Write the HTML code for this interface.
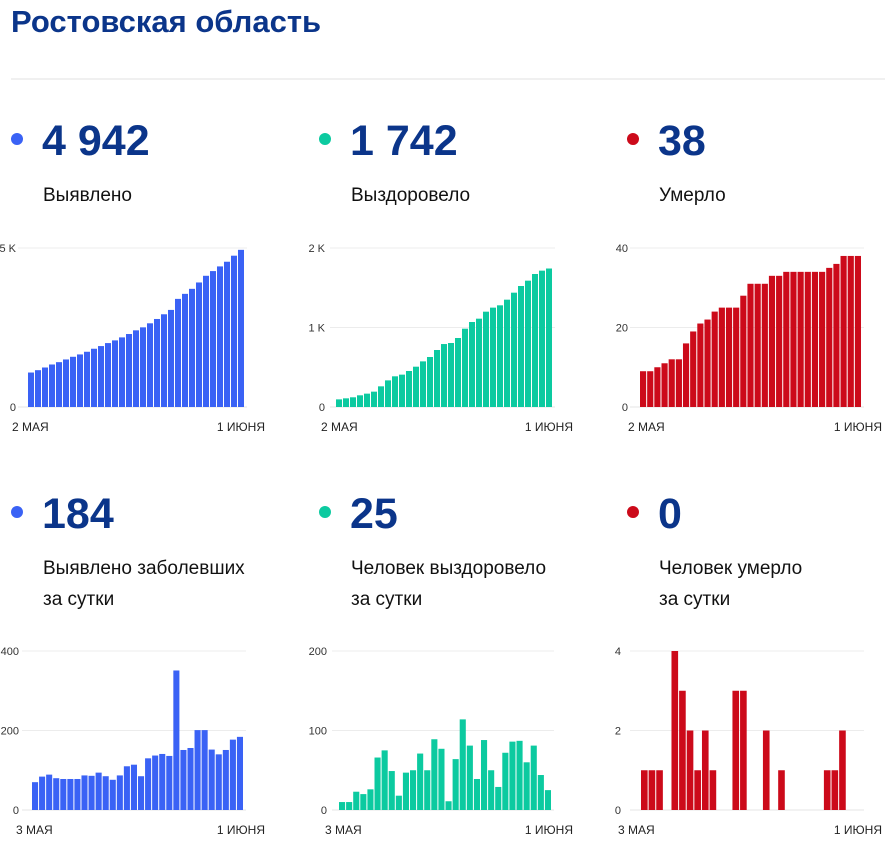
<!DOCTYPE html>
<html><head><meta charset="utf-8">
<style>
html,body{margin:0;padding:0;background:#fff;}
body{width:892px;height:846px;overflow:hidden;font-family:"Liberation Sans",sans-serif;}
svg{display:block;}
</style></head>
<body>
<svg id="page" width="892" height="846" viewBox="0 0 892 846" xmlns="http://www.w3.org/2000/svg" font-family="Liberation Sans, sans-serif">
<text x="11" y="32" font-size="31" font-weight="bold" fill="#0b358a">Ростовская область</text>
<line x1="11" y1="79" x2="885" y2="79" stroke="#e2e2e2" stroke-width="1"/>

<circle cx="17" cy="139" r="6" fill="#3a62f5"/>
<text x="42" y="155" font-size="43" font-weight="bold" fill="#0b358a">4 942</text>
<text x="43" y="201" font-size="19" fill="#111">Выявлено</text>

<circle cx="325" cy="139" r="6" fill="#0ccaa0"/>
<text x="350" y="155" font-size="43" font-weight="bold" fill="#0b358a">1 742</text>
<text x="351" y="201" font-size="19" fill="#111">Выздоровело</text>

<circle cx="633" cy="139" r="6" fill="#cc0a1a"/>
<text x="658" y="155" font-size="43" font-weight="bold" fill="#0b358a">38</text>
<text x="659" y="201" font-size="19" fill="#111">Умерло</text>

<circle cx="17" cy="512" r="6" fill="#3a62f5"/>
<text x="42" y="528" font-size="43" font-weight="bold" fill="#0b358a">184</text>
<text x="43" y="574" font-size="19" fill="#111">Выявлено заболевших</text>
<text x="43" y="605" font-size="19" fill="#111">за сутки</text>

<circle cx="325" cy="512" r="6" fill="#0ccaa0"/>
<text x="350" y="528" font-size="43" font-weight="bold" fill="#0b358a">25</text>
<text x="351" y="574" font-size="19" fill="#111">Человек выздоровело</text>
<text x="351" y="605" font-size="19" fill="#111">за сутки</text>

<circle cx="633" cy="512" r="6" fill="#cc0a1a"/>
<text x="658" y="528" font-size="43" font-weight="bold" fill="#0b358a">0</text>
<text x="659" y="574" font-size="19" fill="#111">Человек умерло</text>
<text x="659" y="605" font-size="19" fill="#111">за сутки</text>
<g id="charts"></g>
</svg>
<script>
// Data arrays
const confirmedValues = [1084,1158,1242,1337,1410,1495,1579,1653,1737,1832,1916,2010,2095,2189,2295,2411,2505,2632,2768,2916,3053,3400,3558,3716,3916,4126,4274,4421,4568,4758,4942];
const recoveredValues = [96,109,122,147,168,193,260,335,386,407,453,507,574,629,717,792,805,868,985,1069,1111,1199,1250,1279,1350,1438,1522,1589,1673,1715,1742];
const deathsValues = [9,9,10,11,12,12,16,19,21,22,24,25,25,25,28,31,31,31,33,33,34,34,34,34,34,34,35,36,38,38,38];
const dailyConfirmedValues = [70,84,89,80,78,78,78,87,86,94,85,76,87,110,114,85,130,137,141,136,351,151,156,201,201,152,140,151,177,184];
const dailyRecoveredValues = [10,10,23,20,26,66,75,49,18,47,50,71,50,89,77,11,64,114,81,39,88,50,29,72,86,87,60,81,44,25];
const dailyDeathsValues = [1,1,1,0,4,3,2,1,2,1,0,0,3,3,0,0,2,0,1,0,0,0,0,0,1,1,2,0,0];
const confirmedTicks = [0,5000], confirmedTickLabels = ["0","5 K"];
const recoveredTicks = [0,1000,2000], recoveredTickLabels = ["0","1 K","2 K"];
const deathsTicks = [0,20,40], deathsTickLabels = ["0","20","40"];
const dailyConfirmedTicks = [0,200,400], dailyConfirmedTickLabels = ["0","200","400"];
const dailyRecoveredTicks = [0,100,200], dailyRecoveredTickLabels = ["0","100","200"];
const dailyDeathsTicks = [0,2,4], dailyDeathsTickLabels = ["0","2","4"];
const topDateLabels = ["2 МАЯ","1 ИЮНЯ"];
const bottomDateLabels = ["3 МАЯ","1 ИЮНЯ"];

const NS = "http://www.w3.org/2000/svg";
const root = document.getElementById('charts');
function mk(tag, attrs, parent){const e=document.createElementNS(NS,tag);for(const k in attrs)e.setAttribute(k,attrs[k]);parent.appendChild(e);return e;}

function drawChart(name, values, ticks, tickLabels, dates, cfg){
  const g = mk('g',{},root);
  
  
  const max = ticks[ticks.length-1];
  const yScale = v => cfg.base - (v/max)*(cfg.base-cfg.top);
  const slot = (cfg.x1-cfg.x0)/cfg.slots;
  const xScale = i => cfg.x0 + i*slot;
  ticks.forEach((t,i)=>{
    const y = yScale(t);
    const ln = mk('line',{x1:cfg.gx0,x2:cfg.x1+2,y1:y,y2:y,stroke: t===0?'#e6e6e6':'#ececec','stroke-width':1},g);
    
    
    const tx = mk('text',{x:cfg.lx,y:y+4,'font-size':11,fill:'#333','text-anchor':'end'},g);
    
    
    tx.textContent = tickLabels[i];
  });
  values.forEach((v,i)=>{
    if(v<=0) return;
    const y = yScale(v);
    const r = mk('rect',{x:xScale(i),y:y,width:slot-1,height:cfg.base-y,fill:cfg.color},g);
    
    
  });
  const d0 = mk('text',{x:cfg.dx0,y:cfg.dy,'font-size':12,fill:'#222'},g);
  
  
  d0.textContent = dates[0];
  const d1 = mk('text',{x:cfg.dx1,y:cfg.dy,'font-size':12,fill:'#222','text-anchor':'end'},g);
  
  
  d1.textContent = dates[1];
}

drawChart('confirmed-chart', confirmedValues, confirmedTicks, confirmedTickLabels, topDateLabels,
  {x0:28,x1:245,slots:31,base:407,top:248,gx0:18,lx:16,color:'#3a62f5',dx0:12,dx1:265,dy:431});
drawChart('recovered-chart', recoveredValues, recoveredTicks, recoveredTickLabels, topDateLabels,
  {x0:336,x1:553,slots:31,base:407,top:248,gx0:330,lx:325,color:'#0ccaa0',dx0:321,dx1:573,dy:431});
drawChart('deaths-chart', deathsValues, deathsTicks, deathsTickLabels, topDateLabels,
  {x0:640,x1:862,slots:31,base:407,top:248,gx0:630,lx:628,color:'#cc0a1a',dx0:628,dx1:882,dy:431});
drawChart('daily-confirmed-chart', dailyConfirmedValues, dailyConfirmedTicks, dailyConfirmedTickLabels, bottomDateLabels,
  {x0:32,x1:244,slots:30,base:810,top:651,gx0:22,lx:19,color:'#3a62f5',dx0:16,dx1:265,dy:834});
drawChart('daily-recovered-chart', dailyRecoveredValues, dailyRecoveredTicks, dailyRecoveredTickLabels, bottomDateLabels,
  {x0:339,x1:552,slots:30,base:810,top:651,gx0:332,lx:327,color:'#0ccaa0',dx0:325,dx1:573,dy:834});
drawChart('daily-deaths-chart', dailyDeathsValues, dailyDeathsTicks, dailyDeathsTickLabels, bottomDateLabels,
  {x0:641,x1:862,slots:29,base:810,top:651,gx0:630,lx:621,color:'#cc0a1a',dx0:618,dx1:882,dy:834});
</script>
</body></html>
